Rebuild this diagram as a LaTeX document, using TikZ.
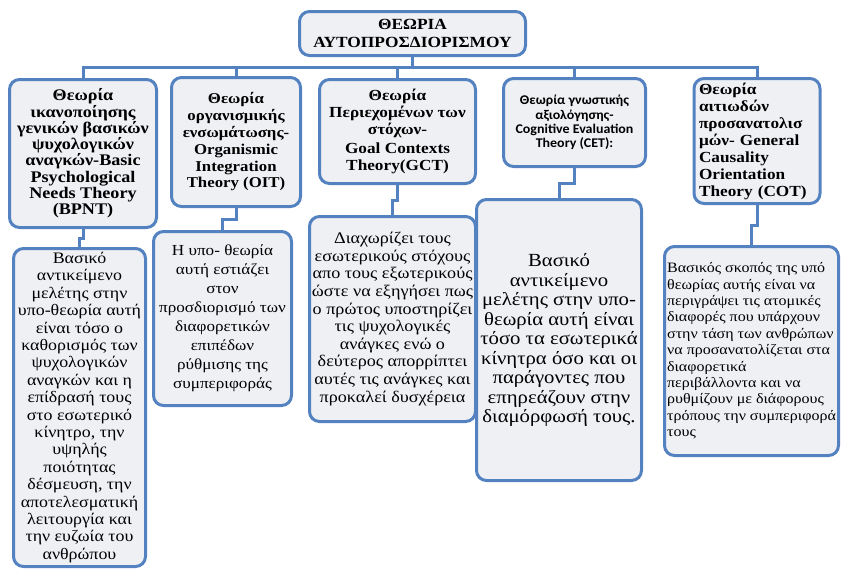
\documentclass[tikz,border=0pt]{standalone}
\usepackage{fontspec}
\usetikzlibrary{calc}
\setmainfont{Liberation Serif}[FakeStretch=1.12]
\newfontfamily\calib{Carlito}[FakeStretch=1.05]
\definecolor{bordblue}{RGB}{84,130,192}
\definecolor{boxfill}{RGB}{238,240,244}
\tikzset{
  box/.style={draw=bordblue, line width=3pt, rounded corners=10pt, fill=boxfill,
    inner sep=2pt, align=center, text=black},
  hdr/.style={box, font={\bfseries\fontsize{15.4}{16.8}\selectfont}},
  bodytxt/.style={box},
  conn/.style={draw=bordblue, line width=3pt},
}
\begin{document}
\begin{tikzpicture}[x=1pt,y=-1pt]
\useasboundingbox (0,0) rectangle (842,573);
% title
\node[box, minimum width=226pt, minimum height=44pt, font={\bfseries\fontsize{15.5}{18}\selectfont}]
  (title) at (412.5,33.5) {ΘΕΩΡΙΑ\\ΑΥΤΟΠΡΟΣΔΙΟΡΙΣΜΟΥ};
% headers
\node[hdr, minimum width=147pt, minimum height=148pt, font={\bfseries\fontsize{16.2}{16.3}\selectfont}] (h1) at (83,153.5)
  {Θεωρία\\ικανοποίησης\\γενικών βασικών\\ψυχολογικών\\αναγκών-Basic\\Psychological\\Needs Theory\\(BPNT)};
\node[hdr, minimum width=129pt, minimum height=129pt, font={\bfseries\fontsize{15}{16.8}\selectfont}] (h2) at (236,142)
  {Θεωρία\\οργανισμικής\\ενσωμάτωσης-\\Organismic\\Integration\\Theory (OIT)};
\node[hdr, minimum width=156pt, minimum height=104pt] (h3) at (397.5,131.5)
  {Θεωρία\\Περιεχομένων των\\στόχων-\\[3pt]Goal Contexts\\Theory(GCT)};
\node[box, minimum width=142pt, minimum height=88pt, font={\calib\bfseries\fontsize{13.3}{14.2}\selectfont}] (h4) at (574.5,122.5)
  {Θεωρία γνωστικής\\αξιολόγησης-\\Cognitive Evaluation\\Theory (CET):};
\node[hdr, minimum width=126pt, minimum height=125pt, text width=116pt, align=left, font={\bfseries\fontsize{15.4}{17}\selectfont}] (h5) at (757,141)
  {Θεωρία\\αιτιωδών\\προσανατολισ\\μών- General\\Causality\\Orientation\\Theory (COT)};
% bodies
\node[bodytxt, minimum width=132pt, minimum height=318pt, inner sep=0pt, font={\fontsize{16}{17.4}\selectfont}] (b1) at (79.5,407.5)
  {Βασικό\\αντικείμενο\\μελέτης στην\\υπο-θεωρία αυτή\\είναι τόσο ο\\καθορισμός των\\ψυχολογικών\\αναγκών και η\\επίδρασή τους\\στο εσωτερικό\\κίνητρο, την\\υψηλής\\ποιότητας\\δέσμευση, την\\αποτελεσματική\\λειτουργία και\\την ευζωία του\\ανθρώπου};
\node[bodytxt, minimum width=138pt, minimum height=174pt, font={\fontsize{15.3}{19}\selectfont}] (b2) at (222.5,318.5)
  {Η υπο- θεωρία\\αυτή εστιάζει\\στον\\προσδιορισμό των\\διαφορετικών\\επιπέδων\\ρύθμισης της\\συμπεριφοράς};
\node[bodytxt, minimum width=166pt, minimum height=205pt, font={\fontsize{16.2}{17.6}\selectfont}] (b3) at (392.5,319)
  {Διαχωρίζει τους\\εσωτερικούς στόχους\\απο τους εξωτερικούς\\ώστε να εξηγήσει πως\\ο πρώτος υποστηρίζει\\τις ψυχολογικές\\ανάγκες ενώ ο\\δεύτερος απορρίπτει\\αυτές τις ανάγκες και\\προκαλεί δυσχέρεια};
\node[bodytxt, minimum width=165pt, minimum height=281pt, font={\fontsize{18.5}{19.5}\selectfont}] (b4) at (559,340)
  {Βασικό\\αντικείμενο\\μελέτης στην υπο-\\θεωρία αυτή είναι\\τόσο τα εσωτερικά\\κίνητρα όσο και οι\\παράγοντες που\\επηρεάζουν στην\\διαμόρφωσή τους.};
\node[bodytxt, minimum width=174pt, minimum height=209pt, align=left, font={\fontsize{14.3}{16.4}\selectfont}] (b5) at (751.5,351)
  {Βασικός σκοπός της υπό\\θεωρίας αυτής είναι να\\περιγράψει τις ατομικές\\διαφορές που υπάρχουν\\στην τάση των ανθρώπων\\να προσανατολίζεται στα\\διαφορετικά\\περιβάλλοντα και να\\ρυθμίζουν με διάφορους\\τρόπους την συμπεριφορά\\τους};
% connectors
\coordinate (bar) at (412.5,67);
\foreach \h in {h1,h2,h3,h4,h5}{
  \draw[conn] (title.south) -- (title.south |- bar) -| (\h.north);
}
\foreach \h/\b in {h1/b1,h2/b2,h3/b3,h4/b4,h5/b5}{
  \draw[conn] (\h.south) -- ($(\h.south)!0.5!(\h.south |- \b.north)$) -| (\b.north);
}
\end{tikzpicture}
\end{document}
